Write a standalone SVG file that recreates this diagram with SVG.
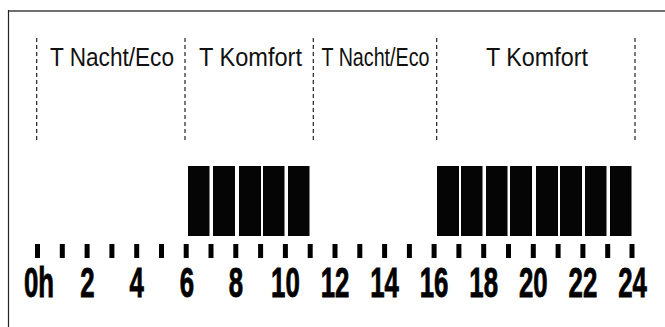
<svg xmlns="http://www.w3.org/2000/svg" width="665" height="327" viewBox="0 0 665 327">
<style>
.lbl{font-family:"Liberation Sans",Arial,sans-serif;font-size:25px;fill:#111}
.num{font-family:"Liberation Sans",Arial,sans-serif;font-size:43px;font-weight:bold;fill:#000;stroke:#000;stroke-width:0.9;text-anchor:middle}
.div{stroke:#222;stroke-width:1.2;stroke-dasharray:4 3;fill:none}
.bar{fill:#050505}
.tick{fill:#000}
</style>
<rect width="665" height="327" fill="#fff"/>
<g id="frame">
<line x1="8" y1="11" x2="665" y2="11" stroke="#707070" stroke-width="2"/>
<line x1="8.5" y1="10" x2="8.5" y2="327" stroke="#222" stroke-width="1.2"/>
</g>
<g id="connectors">
<line class="div" x1="36.7" y1="38" x2="36.7" y2="140"/>
<line class="div" x1="185" y1="38" x2="185" y2="140"/>
<line class="div" x1="313.3" y1="38" x2="313.3" y2="140"/>
<line class="div" x1="436.7" y1="38" x2="436.7" y2="140"/>
<line class="div" x1="635" y1="38" x2="635" y2="140"/>
</g>
<g id="label-nacht1"><text class="lbl" x="50" y="66" textLength="124" lengthAdjust="spacingAndGlyphs">T Nacht/Eco</text></g>
<g id="label-komfort1"><text class="lbl" x="199" y="66" textLength="103" lengthAdjust="spacingAndGlyphs">T Komfort</text></g>
<g id="label-nacht2"><text class="lbl" x="321.5" y="66" textLength="108" lengthAdjust="spacingAndGlyphs">T Nacht/Eco</text></g>
<g id="label-komfort2"><text class="lbl" x="486" y="66" textLength="102" lengthAdjust="spacingAndGlyphs">T Komfort</text></g>
<g id="bars-morning">
<rect class="bar" x="188" y="166" width="21.5" height="70"/>
<rect class="bar" x="213" y="166" width="22" height="70"/>
<rect class="bar" x="239" y="166" width="22" height="70"/>
<rect class="bar" x="263" y="166" width="21.5" height="70"/>
<rect class="bar" x="288" y="166" width="21.5" height="70"/>
</g>
<g id="bars-evening">
<rect class="bar" x="437" y="166" width="22" height="70"/>
<rect class="bar" x="461" y="166" width="21.5" height="70"/>
<rect class="bar" x="486" y="166" width="21.5" height="70"/>
<rect class="bar" x="510" y="166" width="22" height="70"/>
<rect class="bar" x="536" y="166" width="22" height="70"/>
<rect class="bar" x="560" y="166" width="22" height="70"/>
<rect class="bar" x="585" y="166" width="21.5" height="70"/>
<rect class="bar" x="610" y="166" width="21.5" height="70"/>
</g>
<g id="ticks">
<rect class="tick" x="35" y="244" width="5" height="14"/>
<rect class="tick" x="59.8" y="244" width="5" height="14"/>
<rect class="tick" x="84.6" y="244" width="5" height="14"/>
<rect class="tick" x="109.4" y="244" width="5" height="14"/>
<rect class="tick" x="134.2" y="244" width="5" height="14"/>
<rect class="tick" x="159" y="244" width="5" height="14"/>
<rect class="tick" x="183.7" y="244" width="5" height="14"/>
<rect class="tick" x="208.5" y="244" width="5" height="14"/>
<rect class="tick" x="233.3" y="244" width="5" height="14"/>
<rect class="tick" x="258.1" y="244" width="5" height="14"/>
<rect class="tick" x="282.9" y="244" width="5" height="14"/>
<rect class="tick" x="307.7" y="244" width="5" height="14"/>
<rect class="tick" x="332.5" y="244" width="5" height="14"/>
<rect class="tick" x="357.3" y="244" width="5" height="14"/>
<rect class="tick" x="382.1" y="244" width="5" height="14"/>
<rect class="tick" x="406.9" y="244" width="5" height="14"/>
<rect class="tick" x="431.6" y="244" width="5" height="14"/>
<rect class="tick" x="456.4" y="244" width="5" height="14"/>
<rect class="tick" x="481.2" y="244" width="5" height="14"/>
<rect class="tick" x="506" y="244" width="5" height="14"/>
<rect class="tick" x="530.8" y="244" width="5" height="14"/>
<rect class="tick" x="555.6" y="244" width="5" height="14"/>
<rect class="tick" x="580.4" y="244" width="5" height="14"/>
<rect class="tick" x="605.2" y="244" width="5" height="14"/>
<rect class="tick" x="629.5" y="244" width="5" height="14"/>
</g>
<g id="hour-labels">
<text class="num" transform="translate(39,296.5) scale(0.6,1)">0h</text>
<text class="num" transform="translate(87.5,296.5) scale(0.6,1)">2</text>
<text class="num" transform="translate(136.7,296.5) scale(0.6,1)">4</text>
<text class="num" transform="translate(187,296.5) scale(0.6,1)">6</text>
<text class="num" transform="translate(236,296.5) scale(0.6,1)">8</text>
<text class="num" transform="translate(285.4,296.5) scale(0.6,1)">10</text>
<text class="num" transform="translate(335,296.5) scale(0.6,1)">12</text>
<text class="num" transform="translate(384.6,296.5) scale(0.6,1)">14</text>
<text class="num" transform="translate(434.1,296.5) scale(0.6,1)">16</text>
<text class="num" transform="translate(483.7,296.5) scale(0.6,1)">18</text>
<text class="num" transform="translate(533.3,296.5) scale(0.6,1)">20</text>
<text class="num" transform="translate(582.9,296.5) scale(0.6,1)">22</text>
<text class="num" transform="translate(632.5,296.5) scale(0.6,1)">24</text>
</g>
</svg>
